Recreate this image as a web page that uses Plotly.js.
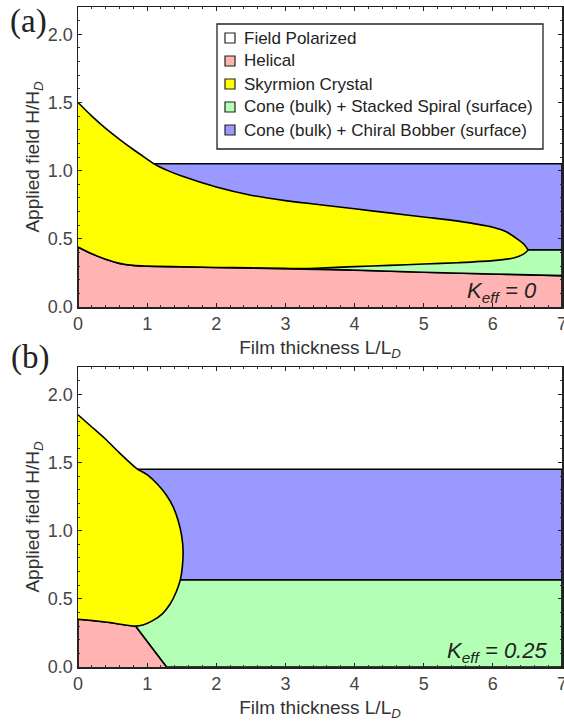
<!DOCTYPE html>
<html><head><meta charset="utf-8">
<script src="https://cdn.plot.ly/plotly-3.0.1.min.js"></script>
<style>html,body{margin:0;padding:0;background:#fff}#chart{width:564px;height:726px}</style>
</head><body><div id="chart"></div>
<script>
// ---------- Panel (a): K_eff = 0 ----------
const aSkyUpperX = [0, 0.2, 0.4, 0.6, 0.8, 1.0, 1.1, 1.3, 1.5, 2.0, 2.5, 3.0, 3.5, 4.0, 4.5, 5.0, 5.5, 6.0, 6.2, 6.35, 6.45, 6.51];
const aSkyUpperY = [1.50, 1.40, 1.31, 1.23, 1.155, 1.085, 1.05, 1.0, 0.96, 0.88, 0.82, 0.78, 0.75, 0.72, 0.69, 0.66, 0.63, 0.585, 0.55, 0.50, 0.46, 0.418];
const aSkyLowerX = [0, 0.2, 0.4, 0.6, 0.8, 1.0, 1.5, 2.0, 2.5, 3.0, 3.3, 3.6, 4.0, 4.5, 5.0, 5.5, 6.0, 6.3, 6.45, 6.51];
const aSkyLowerY = [0.44, 0.39, 0.35, 0.32, 0.305, 0.30, 0.295, 0.29, 0.287, 0.283, 0.282, 0.288, 0.296, 0.305, 0.315, 0.325, 0.34, 0.36, 0.39, 0.418];
const aSplitX = [3.3, 4.0, 5.0, 6.0, 7.0];          // helical / cone+stacked spiral boundary
const aSplitY = [0.282, 0.27, 0.255, 0.242, 0.23];
const aBobberX = [1.1, 7.0];                           // cone + chiral bobber span
const aBobberY = [0.42, 1.05];                         // lower, upper field

// ---------- Panel (b): K_eff = 0.25 ----------
const bSkyOuterX = [0, 0.2, 0.4, 0.6, 0.85, 1.0, 1.15, 1.28, 1.38, 1.45, 1.50, 1.52, 1.51, 1.48, 1.42, 1.33, 1.22, 1.08, 0.95, 0.83];
const bSkyOuterY = [1.85, 1.76, 1.67, 1.57, 1.455, 1.41, 1.34, 1.26, 1.17, 1.07, 0.96, 0.85, 0.74, 0.64, 0.55, 0.46, 0.39, 0.34, 0.31, 0.30];
const bSkyLowerX = [0, 0.4, 0.83];
const bSkyLowerY = [0.35, 0.33, 0.30];
const bSplitX = [0.83, 0.95, 1.07, 1.18, 1.28];
const bSplitY = [0.30, 0.22, 0.14, 0.065, 0];
const bBobberX = [0.85, 7.0];
const bBobberY = [0.64, 1.45];

// ---------- Legend ----------
const legendLabels = ['Field Polarized', 'Helical', 'Skyrmion Crystal', 'Cone (bulk) + Stacked Spiral (surface)', 'Cone (bulk) + Chiral Bobber (surface)'];
const phaseColors = {fp: '#FFFFFF', hel: '#FFB3B3', sky: '#FFFF00', ss: '#B3FFB3', cb: '#9999FF'};
const legendColors = [phaseColors.fp, phaseColors.hel, phaseColors.sky, phaseColors.ss, phaseColors.cb];

const XMAX = 7;

function poly(xs, ys, color, xa, ya, name, smooth) {
  return {type: 'scatter', mode: 'lines', x: xs, y: ys, fill: 'toself', fillcolor: color,
    line: smooth ? {color: '#000', width: 1.6, shape: 'spline', smoothing: 0.8} : {color: '#000', width: 1.6},
    xaxis: xa, yaxis: ya, showlegend: false, hoverinfo: 'skip', name: name};
}

// panel a polygons
const aHelTopX = aSkyLowerX.filter(x => x <= aSplitX[0]);
const aHelTopY = aSkyLowerY.slice(0, aHelTopX.length);
const traces = [];
traces.push(poly([0, ...aHelTopX, ...aSplitX.slice(1), XMAX], [0, ...aHelTopY, ...aSplitY.slice(1), 0], phaseColors.hel, 'x', 'y', 'Helical'));
traces.push(poly([...aSplitX, XMAX, aSplitX[0]], [...aSplitY, aBobberY[0], aBobberY[0]], phaseColors.ss, 'x', 'y', 'Stacked spiral'));
traces.push(poly([aBobberX[0], aBobberX[1], aBobberX[1], aBobberX[0]], [aBobberY[0], aBobberY[0], aBobberY[1], aBobberY[1]], phaseColors.cb, 'x', 'y', 'Chiral bobber'));
traces.push(poly([...aSkyUpperX, ...aSkyLowerX.slice().reverse()], [...aSkyUpperY, ...aSkyLowerY.slice().reverse()], phaseColors.sky, 'x', 'y', 'Skyrmion', true));

// panel b polygons
traces.push(poly([...bSplitX, XMAX, XMAX, bSplitX[0]], [...bSplitY, 0, bBobberY[0], bBobberY[0]], phaseColors.ss, 'x2', 'y2', 'Stacked spiral'));
traces.push(poly([0, ...bSkyLowerX, ...bSplitX.slice(1)], [0, ...bSkyLowerY, ...bSplitY.slice(1)], phaseColors.hel, 'x2', 'y2', 'Helical'));
traces.push(poly([bBobberX[0], bBobberX[1], bBobberX[1], bBobberX[0]], [bBobberY[0], bBobberY[0], bBobberY[1], bBobberY[1]], phaseColors.cb, 'x2', 'y2', 'Chiral bobber'));
traces.push(poly([...bSkyOuterX, ...bSkyLowerX.slice(0, -1).reverse()], [...bSkyOuterY, ...bSkyLowerY.slice(0, -1).reverse()], phaseColors.sky, 'x2', 'y2', 'Skyrmion', true));

// pixel helpers
const W = 564, H = 726, ML = 78, MR = 2, MT = 7, MB = 59;
const PW = W - ML - MR, PH = H - MT - MB;
const px = v => (v - ML) / PW;
const py = v => (H - MB - v) / PH;

const sans = 'Liberation Sans, Arial, sans-serif';
const tickFont = {family: sans, size: 18, color: '#444'};
const titleFont = {family: sans, size: 19, color: '#333'};

function xax(anchor) {
  return {range: [0, XMAX], dtick: 1, tick0: 0, ticks: 'inside', ticklen: 4, tickwidth: 1.2, tickcolor: '#222',
    minor: {dtick: 0.2, ticks: 'inside', ticklen: 2, tickwidth: 1, tickcolor: '#333'},
    showline: true, linecolor: '#222', linewidth: 1.5, mirror: 'allticks', showgrid: false, zeroline: false,
    tickfont: tickFont, anchor: anchor, fixedrange: true, ticklabeloverflow: 'allow',
    title: {text: 'Film thickness L/L<sub><i>D</i></sub>', font: titleFont, standoff: 7}};
}
function yax(anchor, domain) {
  return {range: [0, 2.2], dtick: 0.5, tick0: 0, tickformat: '.1f', ticks: 'inside', ticklen: 4, tickwidth: 1.2, tickcolor: '#222',
    minor: {dtick: 0.1, ticks: 'inside', ticklen: 2, tickwidth: 1, tickcolor: '#333'},
    showline: true, linecolor: '#222', linewidth: 1.5, mirror: 'allticks', showgrid: false, zeroline: false,
    tickfont: tickFont, anchor: anchor, domain: domain, fixedrange: true, ticklabeloverflow: 'allow',
    title: {text: 'Applied field H/H<sub><i>D</i></sub>', font: titleFont, standoff: 3}};
}

const shapes = [{type: 'rect', xref: 'paper', yref: 'paper', x0: px(217), x1: px(543), y0: py(24), y1: py(149),
  line: {color: '#222', width: 1.3}, fillcolor: '#fff', layer: 'above'}];
const annotations = [];
legendLabels.forEach((lab, i) => {
  const cy = 38 + 23 * i;
  shapes.push({type: 'rect', xref: 'paper', yref: 'paper', x0: px(225), x1: px(235), y0: py(cy - 5), y1: py(cy + 5),
    line: {color: '#222', width: 1.2}, fillcolor: legendColors[i], layer: 'above'});
  annotations.push({xref: 'paper', yref: 'paper', x: px(242), y: py(cy), xanchor: 'left', yanchor: 'middle',
    text: lab, showarrow: false, font: {family: sans, size: 17, color: '#222'}});
});
annotations.push({xref: 'paper', yref: 'paper', x: px(8), y: py(22), xanchor: 'left', yanchor: 'middle', text: '(a)',
  showarrow: false, font: {family: 'Liberation Serif, Times New Roman, serif', size: 33, color: '#222'}});
annotations.push({xref: 'paper', yref: 'paper', x: px(9), y: py(357), xanchor: 'left', yanchor: 'middle', text: '(b)',
  showarrow: false, font: {family: 'Liberation Serif, Times New Roman, serif', size: 33, color: '#222'}});
annotations.push({xref: 'paper', yref: 'paper', x: px(539), y: py(292), xanchor: 'right', yanchor: 'middle',
  text: '<i>K<sub>eff</sub> = 0</i>', showarrow: false, font: {family: sans, size: 22, color: '#222'}});
annotations.push({xref: 'paper', yref: 'paper', x: px(549), y: py(652), xanchor: 'right', yanchor: 'middle',
  text: '<i>K<sub>eff</sub> = 0.25</i>', showarrow: false, font: {family: sans, size: 22, color: '#222'}});

const layout = {
  width: W, height: H, margin: {l: ML, r: MR, t: MT, b: MB, pad: 0},
  paper_bgcolor: '#fff', plot_bgcolor: '#fff', showlegend: false, hovermode: false,
  xaxis: xax('y'), yaxis: yax('x', [360 / PH, 1]),
  xaxis2: xax('y2'), yaxis2: yax('x2', [0, 300 / PH]),
  shapes: shapes, annotations: annotations
};
Plotly.newPlot('chart', traces, layout, {displayModeBar: false, staticPlot: true});
</script></body></html>
